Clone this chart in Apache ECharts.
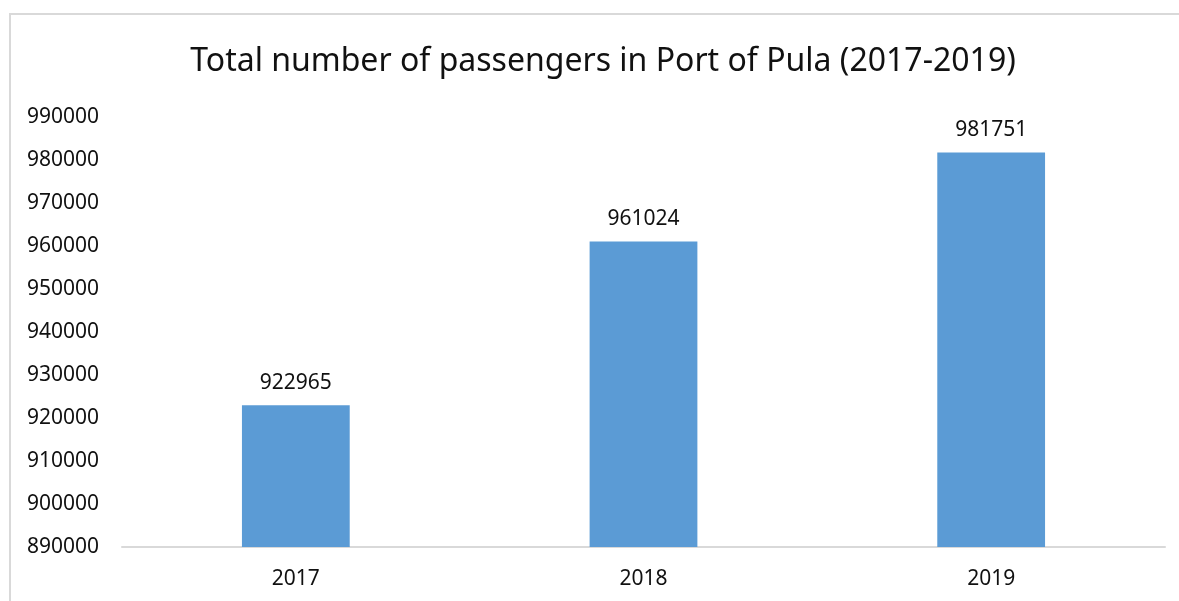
<!DOCTYPE html>
<html>
<head>
<meta charset="utf-8">
<title>Port of Pula passengers</title>
<script src="https://cdn.jsdelivr.net/npm/echarts@6/dist/echarts.min.js"></script>
<style>
html,body{margin:0;padding:0;background:#fff;}
#chart{width:1179px;height:601px;}
</style>
</head>
<body>
<div id="chart"></div>
<script>
//年份
var years = ['2017', '2018', '2019'];
//乘客总数
var passengers = [922965, 961024, 981751];
//y轴刻度
var yMin = 890000;
var yMax = 990000;
var yStep = 10000;

var myChart = echarts.init(document.getElementById('chart'));
var font = '"Noto Sans", sans-serif';
var option = {
	animation: false,
	backgroundColor: '#fff',
	//外框
	graphic: [{
		type: 'rect',
		shape: {x: 10, y: 14, width: 1400, height: 800},
		style: {fill: 'none', stroke: '#d9d9d9', lineWidth: 2},
		silent: true
	}],
	title: {
		text: 'Total number of passengers in Port of Pula (2017-2019)',
		left: 598,
		textAlign: 'center',
		top: 41,
		textStyle: {fontFamily: font, fontSize: 32, fontWeight: 'normal', color: '#111'}
	},
	grid: {left: 122, right: 14, top: 117, bottom: 54, containLabel: false},
	xAxis: {
		type: 'category',
		data: years,
		axisLine: {lineStyle: {color: '#d9d9d9', width: 2}},
		axisTick: {show: false},
		axisLabel: {fontFamily: font, fontSize: 21, color: '#111', margin: 22}
	},
	yAxis: {
		type: 'value',
		min: yMin,
		max: yMax,
		interval: yStep,
		splitLine: {show: false},
		axisLine: {show: false},
		axisTick: {show: false},
		axisLabel: {
			fontFamily: font, fontSize: 21, color: '#111', align: 'left', margin: 95,
			formatter: function (v) { return String(v); }
		}
	},
	series: [{
		type: 'bar',
		data: passengers,
		barWidth: '31%',
		itemStyle: {color: '#5b9bd5'},
		label: {
			show: true,
			position: 'top',
			distance: 12,
			fontFamily: font,
			fontSize: 21,
			color: '#111'
		}
	}]
};
myChart.setOption(option);
</script>
</body>
</html>
